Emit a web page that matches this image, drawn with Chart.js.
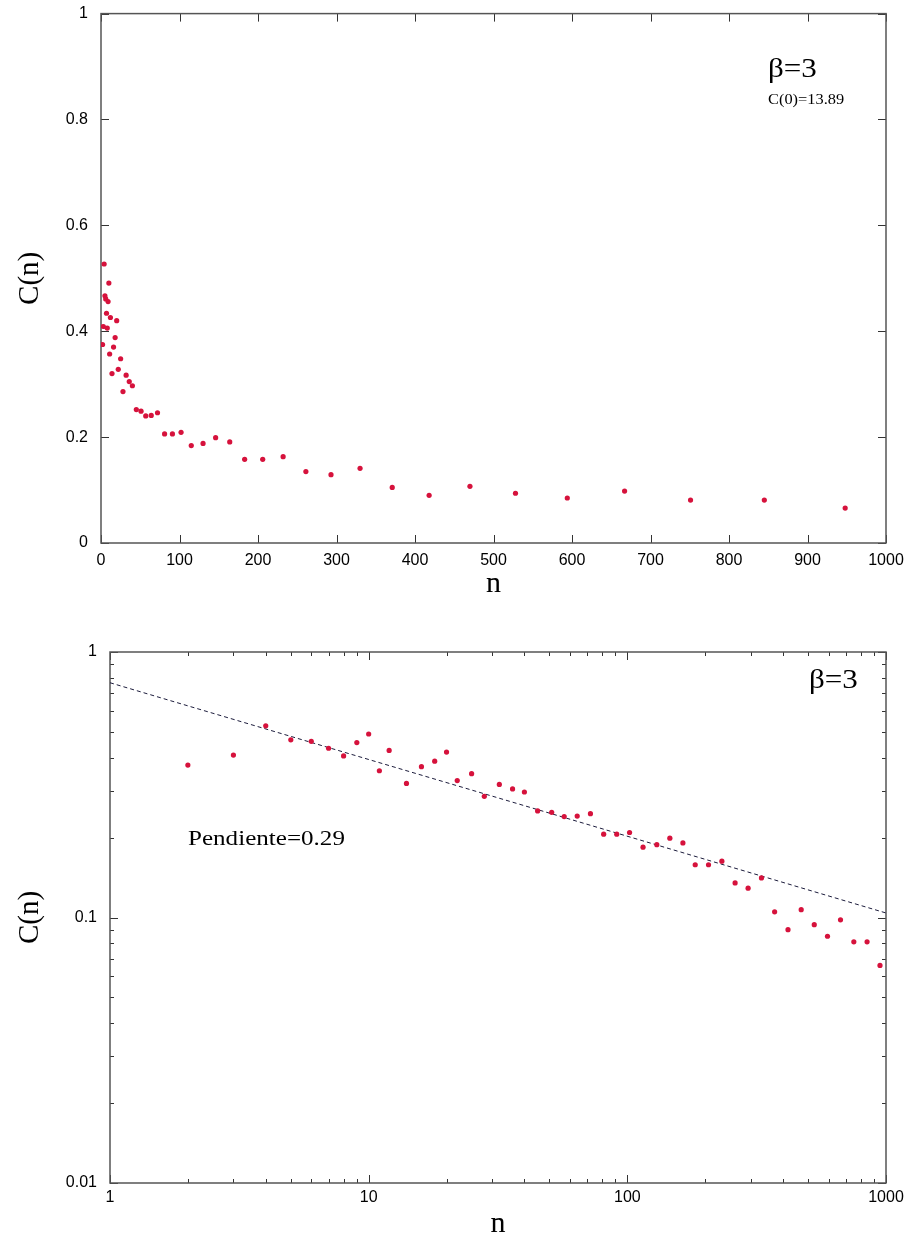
<!DOCTYPE html>
<html lang="es">
<head>
<meta charset="UTF-8">
<title>C(n) beta=3</title>
<style>
  body { margin: 0; background: #fff; }
  .panel { position: absolute; left: 0; width: 914px; }
  #topPanel { top: -9px; height: 619px; }
  #bottomPanel { top: 610px; height: 630px; }
</style>
</head>
<body>
<div class="panel" id="topPanel"><canvas id="linChart"></canvas></div>
<div class="panel" id="bottomPanel"><canvas id="logChart"></canvas></div>

<script src="https://cdn.jsdelivr.net/npm/chart.js"></script>
<script>
// datos
const nValues = [2, 3, 4, 5, 6, 7, 8, 9, 10, 11, 12, 14, 16, 18, 20, 22, 25, 28, 32, 36,
                 40, 45, 51, 57, 64, 72, 81, 91, 102, 115, 130, 146, 164, 183, 206, 232,
                 261, 293, 330, 371, 418, 470, 528, 594, 667, 751, 845, 948];
const cValues = [0.375, 0.409, 0.527, 0.467, 0.461, 0.434, 0.406, 0.456, 0.491, 0.357,
                 0.426, 0.320, 0.370, 0.388, 0.420, 0.328, 0.348, 0.286, 0.317, 0.305,
                 0.297, 0.252, 0.249, 0.240, 0.241, 0.246, 0.206, 0.206, 0.209, 0.184,
                 0.188, 0.199, 0.191, 0.158, 0.158, 0.163, 0.135, 0.129, 0.141, 0.105,
                 0.090, 0.107, 0.094, 0.085, 0.098, 0.081, 0.081, 0.066];
// recta de ajuste (pendiente 0.29)
const fitN = [1, 1000];
const fitC = [0.766, 0.104];

const linXTicks = [0, 100, 200, 300, 400, 500, 600, 700, 800, 900, 1000];
const linYTicks = [0, 0.2, 0.4, 0.6, 0.8, 1];
const logXTicks = [1, 10, 100, 1000];
const logYTicks = [0.01, 0.1, 1];

const points = nValues.map((n, i) => ({ x: n, y: cValues[i] }));
const fitLine = fitN.map((n, i) => ({ x: n, y: fitC[i] }));

const dotColor = 'rgb(214,18,60)';
const tickFont = { family: "'Liberation Sans', Arial, sans-serif", size: 16 };
const serif = "'Liberation Serif', 'Times New Roman', serif";

// marcas menores 2..9 de cada decada
function minorLog(lo, hi) {
  const out = [];
  for (let d = lo; d < hi; d *= 10) {
    for (let k = 2; k <= 9; k++) out.push(+(k * d).toPrecision(3));
  }
  return out;
}

// marco y marcas hacia dentro en los cuatro lados (estilo gnuplot)
const frameTicks = {
  id: 'frameTicks',
  beforeDatasetsDraw(chart, args, opts) {
    const { ctx, chartArea: a, scales } = chart;
    ctx.save();
    ctx.strokeStyle = '#333';
    ctx.lineWidth = 1;
    ctx.beginPath();
    const xt = (list, len) => list.forEach(v => {
      const px = Math.round(scales.x.getPixelForValue(v)) + 0.5;
      ctx.moveTo(px, a.bottom); ctx.lineTo(px, a.bottom - len);
      ctx.moveTo(px, a.top); ctx.lineTo(px, a.top + len);
    });
    const yt = (list, len) => list.forEach(v => {
      const py = Math.round(scales.y.getPixelForValue(v)) + 0.5;
      ctx.moveTo(a.left, py); ctx.lineTo(a.left + len, py);
      ctx.moveTo(a.right, py); ctx.lineTo(a.right - len, py);
    });
    xt(opts.xMajor || [], 8); xt(opts.xMinor || [], 4);
    yt(opts.yMajor || [], 8); yt(opts.yMinor || [], 4);
    ctx.stroke();
    ctx.strokeStyle = '#555';
    ctx.lineWidth = 1.5;
    ctx.strokeRect(a.left, a.top, a.right - a.left, a.bottom - a.top);
    ctx.restore();
  }
};

// textos sueltos dentro del grafico
const notes = {
  id: 'notes',
  afterDraw(chart, args, opts) {
    const ctx = chart.ctx;
    (opts.items || []).forEach(t => {
      ctx.save();
      ctx.fillStyle = '#000';
      ctx.font = t.size + 'px ' + serif;
      ctx.textBaseline = 'alphabetic';
      ctx.translate(t.x, t.y);
      ctx.scale(t.sx || 1, 1);
      ctx.fillText(t.text, 0, 0);
      ctx.restore();
    });
  }
};

function setTicks(list) {
  return axis => { axis.ticks = list.map(v => ({ value: v })); };
}

function axisTitle(text, size, pad) {
  return { display: true, text: text, color: '#000', padding: pad,
           font: { family: serif, size: size, lineHeight: 1 } };
}

// grafico lineal (el lienzo empieza 9px por encima de la pagina)
new Chart(document.getElementById('linChart'), {
  type: 'scatter',
  data: {
    datasets: [{
      data: points,
      backgroundColor: dotColor,
      borderWidth: 0,
      pointRadius: 2.6
    }]
  },
  options: {
    responsive: true,
    maintainAspectRatio: false,
    animation: false,
    layout: { padding: { top: 6, right: 28, left: 0, bottom: 0 } },
    plugins: {
      legend: { display: false },
      tooltip: { enabled: false },
      frameTicks: { xMajor: linXTicks, yMajor: linYTicks },
      notes: { items: [
        { text: 'β=3', x: 768, y: 86, size: 27, sx: 1.15 },
        { text: 'C(0)=13.89', x: 768, y: 113, size: 14, sx: 1.17 }
      ] }
    },
    scales: {
      x: {
        type: 'linear', min: 0, max: 1000,
        grid: { display: false, drawTicks: false },
        border: { display: false },
        afterBuildTicks: setTicks(linXTicks),
        afterFit: axis => { axis.height = 67; },
        ticks: { color: '#000', font: tickFont, padding: 8, autoSkip: false, maxRotation: 0,
                 callback: v => String(v) },
        title: axisTitle('n', 30, { top: 0, bottom: 11 })
      },
      y: {
        type: 'linear', min: 0, max: 1,
        grid: { display: false, drawTicks: false },
        border: { display: false },
        afterBuildTicks: setTicks(linYTicks),
        afterFit: axis => { axis.width = 101; },
        ticks: { color: '#000', font: tickFont, padding: 13, autoSkip: false,
                 callback: v => String(v) },
        title: axisTitle('C(n)', 29, { top: 16, bottom: 0 })
      }
    }
  },
  plugins: [frameTicks, notes]
});

// grafico log-log
new Chart(document.getElementById('logChart'), {
  type: 'scatter',
  data: {
    datasets: [{
      data: points,
      backgroundColor: dotColor,
      borderWidth: 0,
      pointRadius: 2.6
    }, {
      data: fitLine,
      showLine: true,
      borderColor: '#1c1c3c',
      borderWidth: 1,
      borderDash: [4, 3],
      pointRadius: 0
    }]
  },
  options: {
    responsive: true,
    maintainAspectRatio: false,
    animation: false,
    layout: { padding: { top: 42, right: 28, left: 0, bottom: 0 } },
    plugins: {
      legend: { display: false },
      tooltip: { enabled: false },
      frameTicks: { xMajor: logXTicks, xMinor: minorLog(1, 1000),
                    yMajor: logYTicks, yMinor: minorLog(0.01, 1) },
      notes: { items: [
        { text: 'β=3', x: 809, y: 78, size: 27, sx: 1.15 },
        { text: 'Pendiente=0.29', x: 188, y: 235, size: 22, sx: 1.14 }
      ] }
    },
    scales: {
      x: {
        type: 'logarithmic', min: 1, max: 1000,
        grid: { display: false, drawTicks: false },
        border: { display: false },
        afterBuildTicks: setTicks(logXTicks),
        afterFit: axis => { axis.height = 57; },
        ticks: { color: '#000', font: tickFont, padding: 5, autoSkip: false, maxRotation: 0,
                 callback: v => String(v) },
        title: axisTitle('n', 30, { top: 0, bottom: 1 })
      },
      y: {
        type: 'logarithmic', min: 0.01, max: 1,
        grid: { display: false, drawTicks: false },
        border: { display: false },
        afterBuildTicks: setTicks(logYTicks),
        afterFit: axis => { axis.width = 110; },
        ticks: { color: '#000', font: tickFont, padding: 13, autoSkip: false,
                 callback: v => String(v) },
        title: axisTitle('C(n)', 29, { top: 16, bottom: 0 })
      }
    }
  },
  plugins: [frameTicks, notes]
});
</script>
</body>
</html>
